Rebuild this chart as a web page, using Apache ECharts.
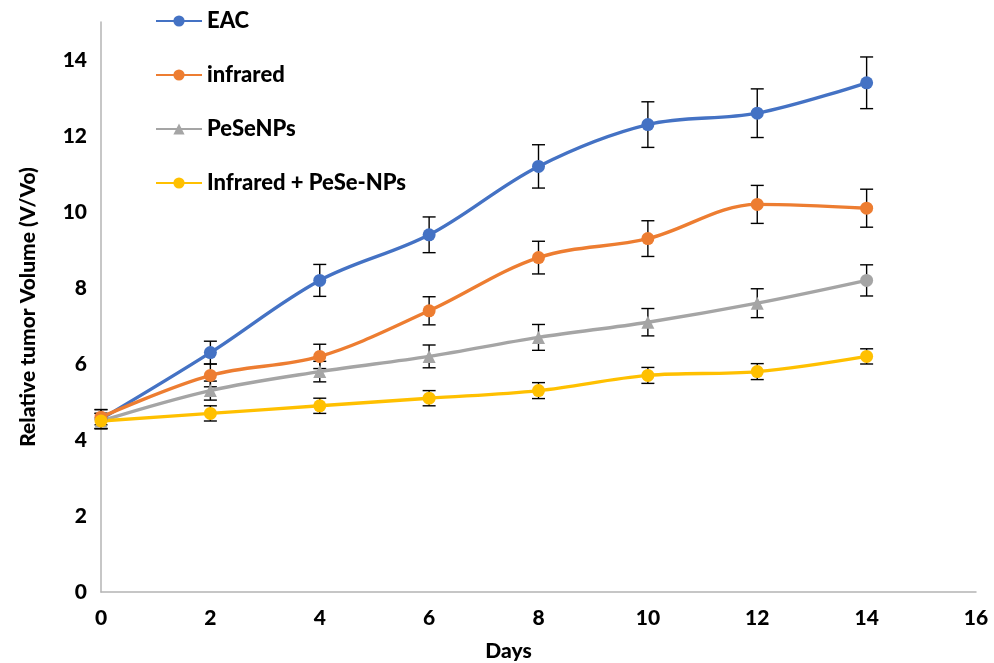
<!DOCTYPE html>
<html>
<head>
<meta charset="utf-8">
<script src="https://cdn.jsdelivr.net/npm/echarts@6/dist/echarts.min.js"></script>
<style>html,body{margin:0;padding:0;background:#fff;}#c{width:994px;height:663px;}</style>
</head>
<body>
<div id="c"></div>
<script>
const days = [0, 2, 4, 6, 8, 10, 12, 14];
const seriesNames = ['EAC', 'infrared', 'PeSeNPs', 'Infrared + PeSe-NPs'];
const eacValues = [4.55, 6.3, 8.2, 9.4, 11.2, 12.3, 12.6, 13.4];
const infraredValues = [4.6, 5.7, 6.2, 7.4, 8.8, 9.3, 10.2, 10.1];
const peseValues = [4.5, 5.3, 5.8, 6.2, 6.7, 7.1, 7.6, 8.2];
const comboValues = [4.5, 4.7, 4.9, 5.1, 5.3, 5.7, 5.8, 6.2];
const eacErrors = [0.25, 0.3, 0.42, 0.47, 0.57, 0.6, 0.64, 0.68];
const infraredErrors = [0.2, 0.3, 0.32, 0.37, 0.43, 0.47, 0.5, 0.5];
const peseErrors = [0.2, 0.25, 0.27, 0.3, 0.34, 0.36, 0.38, 0.41];
const comboErrors = [0.2, 0.2, 0.2, 0.2, 0.21, 0.21, 0.21, 0.2];
const xTicks = [0, 2, 4, 6, 8, 10, 12, 14, 16];
const yTicks = [0, 2, 4, 6, 8, 10, 12, 14];

const colors = ['#4472C4', '#ED7D31', '#A5A5A5', '#FFC000'];
const values = [eacValues, infraredValues, peseValues, comboValues];
const errors = [eacErrors, infraredErrors, peseErrors, comboErrors];
const FONT = 'Lato';
const FW = 900;

const chart = echarts.init(document.getElementById('c'), null, {renderer: 'canvas'});

function errorSeries(vals, errs) {
  return {
    type: 'custom',
    z: 1,
    silent: true,
    encode: {x: 0, y: [1, 2]},
    data: days.map((d, i) => [d, vals[i] - errs[i], vals[i] + errs[i]]),
    renderItem: function (params, api) {
      const x = api.value(0);
      const top = api.coord([x, api.value(2)]);
      const bot = api.coord([x, api.value(1)]);
      const w = 6.5;
      const style = {stroke: '#000', lineWidth: 1.4};
      return {
        type: 'group',
        children: [
          {type: 'line', shape: {x1: top[0], y1: top[1], x2: bot[0], y2: bot[1]}, style: style},
          {type: 'line', shape: {x1: top[0] - w, y1: top[1], x2: top[0] + w, y2: top[1]}, style: style},
          {type: 'line', shape: {x1: bot[0] - w, y1: bot[1], x2: bot[0] + w, y2: bot[1]}, style: style}
        ]
      };
    }
  };
}

const lineSeries = seriesNames.map((name, k) => ({
  name: name,
  type: 'line',
  z: 3,
  smooth: 0.35,
  symbol: k === 2 ? 'triangle' : 'circle',
  symbolSize: 13,
  showSymbol: true,
  lineStyle: {width: 3.4, color: colors[k]},
  itemStyle: {color: colors[k]},
  data: days.map((d, i) => {
    if (k === 2 && i === days.length - 1) {
      return {value: [d, values[k][i]], symbol: 'circle', symbolSize: 13};
    }
    return [d, values[k][i]];
  })
}));

const errSeries = values.map((v, k) => errorSeries(v, errors[k]));

chart.setOption({
  animation: false,
  color: colors,
  textStyle: {fontFamily: FONT},
  grid: {left: 101, right: 18, top: 22, bottom: 71, containLabel: false, outerBoundsMode: 'none'},
  legend: {
    data: seriesNames,
    orient: 'vertical',
    left: 150,
    top: 5,
    itemWidth: 46,
    itemHeight: 14,
    itemGap: 32,
    textStyle: {fontFamily: FONT, fontWeight: FW, fontSize: 22, color: '#000'}
  },
  xAxis: {
    type: 'value',
    min: 0,
    max: 16,
    interval: 2,
    name: 'Days',
    nameLocation: 'middle',
    nameGap: 49,
    nameTextStyle: {fontFamily: FONT, fontWeight: FW, fontSize: 21, color: '#000', padding: [0, 60, 0, 0]},
    axisLine: {lineStyle: {color: '#B4B4B4', width: 1.5}},
    axisTick: {show: false},
    splitLine: {show: false},
    axisLabel: {
      margin: 16,
      fontFamily: FONT, fontWeight: FW, fontSize: 21, color: '#000',
      formatter: v => xTicks.includes(v) ? String(v) : ''
    }
  },
  yAxis: {
    type: 'value',
    min: 0,
    max: 15,
    interval: 2,
    name: 'Relative tumor Volume (V/Vo)',
    nameLocation: 'middle',
    nameGap: 62,
    nameTextStyle: {fontFamily: FONT, fontWeight: FW, fontSize: 21, color: '#000'},
    axisLine: {show: true, lineStyle: {color: '#B4B4B4', width: 1.5}},
    axisTick: {show: false},
    splitLine: {show: false},
    axisLabel: {
      margin: 14,
      fontFamily: FONT, fontWeight: FW, fontSize: 21, color: '#000',
      formatter: v => yTicks.includes(v) ? String(v) : ''
    }
  },
  series: errSeries.concat(lineSeries)
});
</script>
</body>
</html>
